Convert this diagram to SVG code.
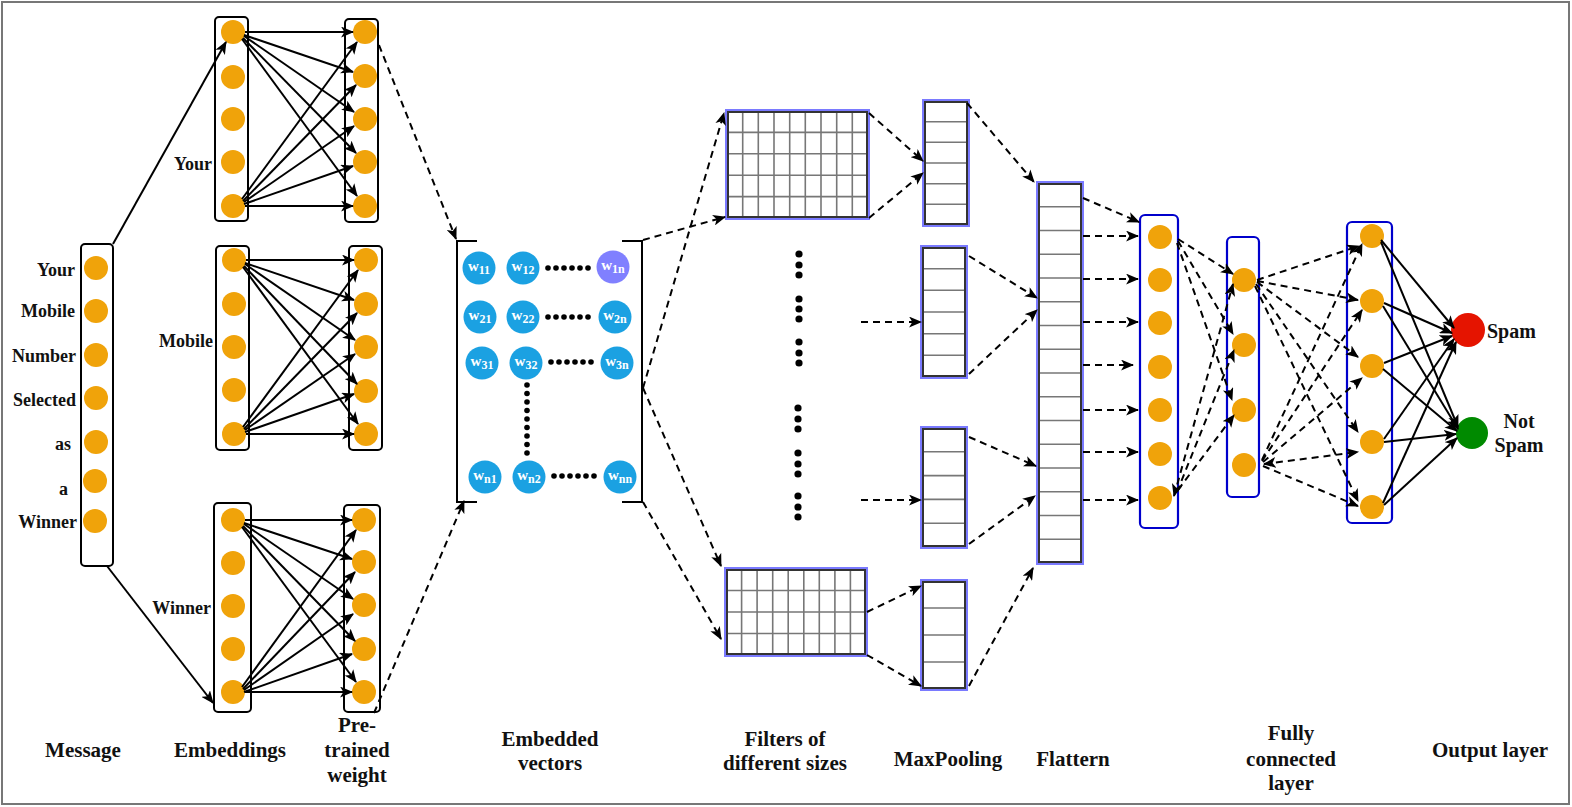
<svg xmlns="http://www.w3.org/2000/svg" width="1572" height="807" viewBox="0 0 1572 807">
<style>
.lbl{font-family:"Liberation Serif","Times New Roman",serif;font-weight:bold;fill:#111;}
.l18{font-size:18px;}
.l21{font-size:21px;}
.col{fill:#fff;stroke:#000;stroke-width:2;}
.fc{fill:#fff;stroke:#0000cc;stroke-width:2.2;}
.or{fill:#f0a30a;}
.bl{fill:#1ba1e2;}
.wt{font-family:"Liberation Serif","Times New Roman",serif;font-weight:bold;fill:#fff;font-size:15px;}
.halo{fill:#fff;stroke:#7a7aff;stroke-width:4;}
.box{fill:none;stroke:#333;stroke-width:2;}
.grid{fill:none;stroke:#777;stroke-width:1.6;}
.s{fill:none;stroke:#000;stroke-width:2;marker-end:url(#a);}
.d{fill:none;stroke:#000;stroke-width:2;stroke-dasharray:7,5;marker-end:url(#a);}
.dot{fill:#000;}
</style>
<defs>
<marker id="a" viewBox="0 0 12 10" refX="11" refY="5" markerWidth="13" markerHeight="11" markerUnits="userSpaceOnUse" orient="auto"><path d="M0,0 L12,5 L0,10 L3,5 z" fill="#000"/></marker>
<marker id="r" viewBox="0 0 12 10" refX="11" refY="5" markerWidth="13" markerHeight="11" markerUnits="userSpaceOnUse" orient="auto-start-reverse"><path d="M0,0 L12,5 L0,10 L3,5 z" fill="#000"/></marker>
</defs>
<rect x="2" y="2" width="1567" height="802" fill="#fff" stroke="#777" stroke-width="2"/>

<!-- Message -->
<g id="message">
<rect class="col" x="81" y="244" width="32" height="322" rx="4"/>
<circle class="or" cx="96" cy="268" r="12"/>
<circle class="or" cx="96" cy="311" r="12"/>
<circle class="or" cx="96" cy="355" r="12"/>
<circle class="or" cx="96" cy="398" r="12"/>
<circle class="or" cx="96" cy="442" r="12"/>
<circle class="or" cx="95" cy="481" r="12"/>
<circle class="or" cx="95" cy="521" r="12"/>
<text class="lbl l18" text-anchor="end" x="75" y="276">Your</text>
<text class="lbl l18" text-anchor="end" x="75" y="317">Mobile</text>
<text class="lbl l18" text-anchor="end" x="76" y="362">Number</text>
<text class="lbl l18" text-anchor="end" x="76" y="406">Selected</text>
<text class="lbl l18" text-anchor="end" x="71" y="450">as</text>
<text class="lbl l18" text-anchor="end" x="68" y="495">a</text>
<text class="lbl l18" text-anchor="end" x="77" y="528">Winner</text>
</g>

<!-- Embeddings -->
<g id="emb-your">
<rect class="col" x="215" y="17" width="33" height="204" rx="4"/>
<circle class="or" cx="233" cy="32" r="12"/>
<circle class="or" cx="233" cy="77" r="12"/>
<circle class="or" cx="233" cy="119" r="12"/>
<circle class="or" cx="233" cy="162" r="12"/>
<circle class="or" cx="233" cy="206" r="12"/>
<text class="lbl l18" text-anchor="end" x="212" y="170">Your</text>
</g>
<g id="pre-your">
<rect class="col" x="345" y="19" width="33" height="203" rx="4"/>
<circle class="or" cx="365" cy="32" r="12"/>
<circle class="or" cx="365" cy="76" r="12"/>
<circle class="or" cx="365" cy="119" r="12"/>
<circle class="or" cx="365" cy="162" r="12"/>
<circle class="or" cx="365" cy="206" r="12"/>
</g>
<g id="emb-mobile">
<rect class="col" x="216" y="246" width="33" height="204" rx="4"/>
<circle class="or" cx="234" cy="260" r="12"/>
<circle class="or" cx="234" cy="304" r="12"/>
<circle class="or" cx="234" cy="347" r="12"/>
<circle class="or" cx="234" cy="390" r="12"/>
<circle class="or" cx="234" cy="434" r="12"/>
<text class="lbl l18" text-anchor="end" x="213" y="347">Mobile</text>
</g>
<g id="pre-mobile">
<rect class="col" x="349" y="246" width="33" height="204" rx="4"/>
<circle class="or" cx="366" cy="260" r="12"/>
<circle class="or" cx="366" cy="304" r="12"/>
<circle class="or" cx="366" cy="347" r="12"/>
<circle class="or" cx="366" cy="391" r="12"/>
<circle class="or" cx="366" cy="434" r="12"/>
</g>
<g id="emb-winner">
<rect class="col" x="214" y="503" width="37" height="209" rx="4"/>
<circle class="or" cx="233" cy="520" r="12"/>
<circle class="or" cx="233" cy="563" r="12"/>
<circle class="or" cx="233" cy="606" r="12"/>
<circle class="or" cx="233" cy="649" r="12"/>
<circle class="or" cx="233" cy="692" r="12"/>
<text class="lbl l18" text-anchor="end" x="211" y="614">Winner</text>
</g>
<g id="pre-winner">
<rect class="col" x="344" y="505" width="36" height="207" rx="4"/>
<circle class="or" cx="364" cy="520" r="12"/>
<circle class="or" cx="364" cy="562" r="12"/>
<circle class="or" cx="364" cy="605" r="12"/>
<circle class="or" cx="364" cy="649" r="12"/>
<circle class="or" cx="364" cy="692" r="12"/>
</g>

<!-- Embedded vectors -->
<g id="vectors">
<path d="M477,241 H457 V502 H477 M622,241 H642 V502 H622" fill="none" stroke="#000" stroke-width="2"/>
<circle class="bl" cx="479" cy="268" r="16.5"/>
<circle class="bl" cx="523" cy="268" r="16.5"/>
<circle cx="613" cy="267" r="16.5" fill="#8080ff"/>
<circle class="bl" cx="480" cy="317" r="16.5"/>
<circle class="bl" cx="523" cy="317" r="16.5"/>
<circle class="bl" cx="615" cy="317" r="16.5"/>
<circle class="bl" cx="482" cy="363" r="16.5"/>
<circle class="bl" cx="526" cy="363" r="16.5"/>
<circle class="bl" cx="617" cy="363" r="16.5"/>
<circle class="bl" cx="485" cy="477" r="16.5"/>
<circle class="bl" cx="529" cy="477" r="16.5"/>
<circle class="bl" cx="620" cy="477" r="16.5"/>
<text class="wt" text-anchor="middle" x="479" y="271">w<tspan font-size="12" dy="3">11</tspan></text>
<text class="wt" text-anchor="middle" x="523" y="271">w<tspan font-size="12" dy="3">12</tspan></text>
<text class="wt" text-anchor="middle" x="613" y="270">w<tspan font-size="12" dy="3">1n</tspan></text>
<text class="wt" text-anchor="middle" x="480" y="320">w<tspan font-size="12" dy="3">21</tspan></text>
<text class="wt" text-anchor="middle" x="523" y="320">w<tspan font-size="12" dy="3">22</tspan></text>
<text class="wt" text-anchor="middle" x="615" y="320">w<tspan font-size="12" dy="3">2n</tspan></text>
<text class="wt" text-anchor="middle" x="482" y="366">w<tspan font-size="12" dy="3">31</tspan></text>
<text class="wt" text-anchor="middle" x="526" y="366">w<tspan font-size="12" dy="3">32</tspan></text>
<text class="wt" text-anchor="middle" x="617" y="366">w<tspan font-size="12" dy="3">3n</tspan></text>
<text class="wt" text-anchor="middle" x="485" y="480">w<tspan font-size="12" dy="3">n1</tspan></text>
<text class="wt" text-anchor="middle" x="529" y="480">w<tspan font-size="12" dy="3">n2</tspan></text>
<text class="wt" text-anchor="middle" x="620" y="480">w<tspan font-size="12" dy="3">nn</tspan></text>
<g class="dot">
<circle cx="548" cy="268" r="2.8"/><circle cx="556" cy="268" r="2.8"/><circle cx="564" cy="268" r="2.8"/><circle cx="572" cy="268" r="2.8"/><circle cx="580" cy="268" r="2.8"/><circle cx="588" cy="268" r="2.8"/>
<circle cx="548" cy="317" r="2.8"/><circle cx="556" cy="317" r="2.8"/><circle cx="564" cy="317" r="2.8"/><circle cx="572" cy="317" r="2.8"/><circle cx="580" cy="317" r="2.8"/><circle cx="588" cy="317" r="2.8"/>
<circle cx="551" cy="362" r="2.8"/><circle cx="559" cy="362" r="2.8"/><circle cx="567" cy="362" r="2.8"/><circle cx="575" cy="362" r="2.8"/><circle cx="583" cy="362" r="2.8"/><circle cx="591" cy="362" r="2.8"/>
<circle cx="554" cy="476" r="2.8"/><circle cx="562" cy="476" r="2.8"/><circle cx="570" cy="476" r="2.8"/><circle cx="578" cy="476" r="2.8"/><circle cx="586" cy="476" r="2.8"/><circle cx="594" cy="476" r="2.8"/>
<circle cx="527" cy="385" r="2.8"/><circle cx="527" cy="393.5" r="2.8"/><circle cx="527" cy="402" r="2.8"/><circle cx="527" cy="410.5" r="2.8"/><circle cx="527" cy="419" r="2.8"/><circle cx="527" cy="427.5" r="2.8"/><circle cx="527" cy="436" r="2.8"/><circle cx="527" cy="444.5" r="2.8"/><circle cx="527" cy="453" r="2.8"/>
</g>
</g>

<!-- Filters -->
<g id="filter1">
<rect class="halo" x="727" y="111" width="141" height="107"/>
<path class="grid" d="M742.7,111V218M758.3,111V218M774,111V218M789.7,111V218M805.3,111V218M821,111V218M836.7,111V218M852.3,111V218M727,132.4H868M727,153.8H868M727,175.2H868M727,196.6H868"/>
<rect class="box" x="728" y="112" width="139" height="105"/>
</g>
<g id="filter2">
<rect class="halo" x="726" y="569" width="140" height="86"/>
<path class="grid" d="M741.6,569V655M757.1,569V655M772.7,569V655M788.2,569V655M803.8,569V655M819.3,569V655M834.9,569V655M850.4,569V655M726,590.5H866M726,612H866M726,633.5H866"/>
<rect class="box" x="727" y="570" width="138" height="84"/>
</g>
<g id="filter-dots" class="dot">
<circle cx="799" cy="254" r="3.6"/><circle cx="799" cy="265" r="3.6"/><circle cx="799" cy="275" r="3.6"/>
<circle cx="799" cy="299" r="3.6"/><circle cx="799" cy="309" r="3.6"/><circle cx="799" cy="319" r="3.6"/>
<circle cx="799" cy="342" r="3.6"/><circle cx="799" cy="353" r="3.6"/><circle cx="799" cy="363" r="3.6"/>
<circle cx="798" cy="408" r="3.6"/><circle cx="798" cy="419" r="3.6"/><circle cx="798" cy="429" r="3.6"/>
<circle cx="798" cy="453" r="3.6"/><circle cx="798" cy="464" r="3.6"/><circle cx="798" cy="474" r="3.6"/>
<circle cx="798" cy="496" r="3.6"/><circle cx="798" cy="507" r="3.6"/><circle cx="798" cy="517" r="3.6"/>
</g>

<!-- MaxPooling -->
<g id="mp1">
<rect class="halo" x="924" y="101" width="44" height="124"/>
<path class="grid" d="M924,121.7H968M924,142.3H968M924,163H968M924,183.7H968M924,204.3H968"/>
<rect class="box" x="925" y="102" width="42" height="122"/>
</g>
<g id="mp2">
<rect class="halo" x="922" y="247" width="44" height="130"/>
<path class="grid" d="M922,268.7H966M922,290.3H966M922,312H966M922,333.7H966M922,355.3H966"/>
<rect class="box" x="923" y="248" width="42" height="128"/>
</g>
<g id="mp3">
<rect class="halo" x="922" y="428" width="44" height="119"/>
<path class="grid" d="M922,451.8H966M922,475.6H966M922,499.4H966M922,523.2H966"/>
<rect class="box" x="923" y="429" width="42" height="117"/>
</g>
<g id="mp4">
<rect class="halo" x="922" y="581" width="44" height="108"/>
<path class="grid" d="M922,608H966M922,635H966M922,662H966"/>
<rect class="box" x="923" y="582" width="42" height="106"/>
</g>

<!-- Flatten -->
<g id="flatten">
<rect class="halo" x="1038" y="183" width="44" height="380"/>
<path class="grid" d="M1038,206.75H1082M1038,230.5H1082M1038,254.25H1082M1038,278H1082M1038,301.75H1082M1038,325.5H1082M1038,349.25H1082M1038,373H1082M1038,396.75H1082M1038,420.5H1082M1038,444.25H1082M1038,468H1082M1038,491.75H1082M1038,515.5H1082M1038,539.25H1082"/>
<rect class="box" x="1039" y="184" width="42" height="378"/>
</g>

<!-- Fully connected -->
<g id="fc1">
<rect class="fc" x="1140" y="215" width="38" height="313" rx="5"/>
<circle class="or" cx="1160" cy="237" r="12"/>
<circle class="or" cx="1160" cy="280" r="12"/>
<circle class="or" cx="1160" cy="323" r="12"/>
<circle class="or" cx="1160" cy="367" r="12"/>
<circle class="or" cx="1160" cy="410" r="12"/>
<circle class="or" cx="1160" cy="454" r="12"/>
<circle class="or" cx="1160" cy="498" r="12"/>
</g>
<g id="fc2">
<rect class="fc" x="1227" y="237" width="32" height="260" rx="5"/>
<circle class="or" cx="1244" cy="280" r="12"/>
<circle class="or" cx="1244" cy="345" r="12"/>
<circle class="or" cx="1244" cy="410" r="12"/>
<circle class="or" cx="1244" cy="465" r="12"/>
</g>
<g id="fc3">
<rect class="fc" x="1347" y="222" width="45" height="301" rx="5"/>
<circle class="or" cx="1372" cy="236" r="12"/>
<circle class="or" cx="1372" cy="301" r="12"/>
<circle class="or" cx="1372" cy="366" r="12"/>
<circle class="or" cx="1372" cy="442" r="12"/>
<circle class="or" cx="1372" cy="507" r="12"/>
</g>

<!-- Output -->
<g id="out-spam">
<circle cx="1468" cy="330" r="17" fill="#e51400"/>
<text class="lbl" font-size="20" x="1487" y="338">Spam</text>
</g>
<g id="out-notspam">
<circle cx="1472" cy="433" r="16" fill="#008a00"/>
<text class="lbl" font-size="20" text-anchor="middle" x="1519" y="428">Not</text>
<text class="lbl" font-size="20" text-anchor="middle" x="1519" y="452">Spam</text>
</g>

<!-- Bottom labels -->
<g id="labels" class="lbl l21" text-anchor="middle">
<text x="83" y="757">Message</text>
<text x="230" y="757">Embeddings</text>
<text x="357" y="732">Pre-</text>
<text x="357" y="757">trained</text>
<text x="357" y="782">weight</text>
<text x="550" y="746">Embedded</text>
<text x="550" y="770">vectors</text>
<text x="785" y="746">Filters of</text>
<text x="785" y="770">different sizes</text>
<text x="948" y="766">MaxPooling</text>
<text x="1073" y="766">Flattern</text>
<text x="1291" y="740">Fully</text>
<text x="1291" y="766">connected</text>
<text x="1291" y="790">layer</text>
<text x="1490" y="757">Output layer</text>
</g>

<!-- Connectors -->
<g id="connectors">
<line class="s" x1="113" y1="244" x2="226" y2="42"/>
<line class="s" x1="107" y1="566" x2="213" y2="703"/>

<g id="fan-top">
<line class="s" x1="245" y1="32" x2="353" y2="32"/>
<line class="s" x1="244" y1="35" x2="353" y2="72"/>
<line class="s" x1="244" y1="36" x2="354" y2="112"/>
<line class="s" x1="243" y1="38" x2="356" y2="153"/>
<line class="s" x1="242" y1="39" x2="357" y2="196"/>
<line class="s" x1="242" y1="199" x2="357" y2="42"/>
<line class="s" x1="243" y1="201" x2="356" y2="85"/>
<line class="s" x1="244" y1="202" x2="354" y2="126"/>
<line class="s" x1="244" y1="204" x2="353" y2="166"/>
<line class="s" x1="245" y1="206" x2="353" y2="206"/>
</g>
<g transform="translate(1,228)">
<line class="s" x1="245" y1="32" x2="353" y2="32"/>
<line class="s" x1="244" y1="35" x2="353" y2="72"/>
<line class="s" x1="244" y1="36" x2="354" y2="112"/>
<line class="s" x1="243" y1="38" x2="356" y2="156"/>
<line class="s" x1="242" y1="39" x2="357" y2="196"/>
<line class="s" x1="242" y1="199" x2="357" y2="42"/>
<line class="s" x1="243" y1="201" x2="356" y2="85"/>
<line class="s" x1="244" y1="202" x2="354" y2="126"/>
<line class="s" x1="244" y1="204" x2="353" y2="166"/>
<line class="s" x1="245" y1="206" x2="353" y2="206"/>
</g>
<g transform="translate(0,488)">
<line class="s" x1="245" y1="32" x2="352" y2="32"/>
<line class="s" x1="244" y1="35" x2="352" y2="71"/>
<line class="s" x1="244" y1="36" x2="353" y2="111"/>
<line class="s" x1="243" y1="38" x2="355" y2="153"/>
<line class="s" x1="242" y1="39" x2="356" y2="194"/>
<line class="s" x1="242" y1="199" x2="356" y2="42"/>
<line class="s" x1="243" y1="201" x2="355" y2="84"/>
<line class="s" x1="244" y1="202" x2="353" y2="126"/>
<line class="s" x1="244" y1="204" x2="352" y2="166"/>
<line class="s" x1="245" y1="204" x2="352" y2="204"/>
</g>

<line class="d" x1="379" y1="45" x2="456" y2="239"/>
<line class="d" x1="374" y1="713" x2="464" y2="501"/>

<line class="d" x1="643" y1="240" x2="725" y2="217"/>
<line class="d" x1="643" y1="388" x2="724" y2="113"/>
<line class="d" x1="643" y1="388" x2="721" y2="566"/>
<line class="d" x1="643" y1="502" x2="721" y2="639"/>

<line class="d" x1="869" y1="113" x2="923" y2="161"/>
<line class="d" x1="869" y1="218" x2="923" y2="173"/>
<line class="d" x1="861" y1="322" x2="921" y2="322"/>
<line class="d" x1="861" y1="500" x2="921" y2="500"/>
<line class="d" x1="867" y1="612" x2="921" y2="586"/>
<line class="d" x1="867" y1="655" x2="921" y2="686"/>

<line class="d" x1="967" y1="103" x2="1034" y2="182"/>
<line class="d" x1="969" y1="256" x2="1037" y2="298"/>
<line class="d" x1="969" y1="374" x2="1037" y2="310"/>
<line class="d" x1="969" y1="437" x2="1036" y2="466"/>
<line class="d" x1="969" y1="544" x2="1035" y2="496"/>
<line class="d" x1="969" y1="686" x2="1033" y2="568"/>

<line class="d" x1="1083" y1="198" x2="1139" y2="222"/>
<line class="d" x1="1083" y1="236" x2="1138" y2="236"/>
<line class="d" x1="1083" y1="279" x2="1138" y2="279"/>
<line class="d" x1="1083" y1="322" x2="1138" y2="322"/>
<line class="d" x1="1083" y1="365" x2="1133" y2="365"/>
<line class="d" x1="1083" y1="410" x2="1138" y2="410"/>
<line class="d" x1="1083" y1="452" x2="1138" y2="452"/>
<line class="d" x1="1083" y1="500" x2="1138" y2="500"/>

<line class="d" x1="1178" y1="239" x2="1233" y2="274"/>
<line class="d" x1="1178" y1="241" x2="1233" y2="334"/>
<line class="d" x1="1177" y1="243" x2="1232" y2="400"/>
<line class="d" x1="1174" y1="496" x2="1233" y2="284" style="marker-start:url(#r)"/>
<line class="d" x1="1177" y1="492" x2="1234" y2="350"/>
<line class="d" x1="1178" y1="490" x2="1234" y2="415"/>

<line class="d" x1="1257" y1="280" x2="1359" y2="246"/>
<line class="d" x1="1257" y1="281" x2="1358" y2="300"/>
<line class="d" x1="1257" y1="282" x2="1358" y2="357"/>
<line class="d" x1="1256" y1="284" x2="1358" y2="432"/>
<line class="d" x1="1255" y1="286" x2="1358" y2="501"/>
<line class="d" x1="1262" y1="460" x2="1362" y2="244"/>
<line class="d" x1="1262" y1="461" x2="1362" y2="310"/>
<line class="d" x1="1263" y1="462" x2="1362" y2="378"/>
<line class="d" x1="1264" y1="464" x2="1358" y2="452" style="marker-start:url(#r)"/>
<line class="d" x1="1263" y1="466" x2="1358" y2="506"/>

<line class="s" x1="1381" y1="240" x2="1454" y2="328"/>
<line class="s" x1="1381" y1="242" x2="1458" y2="427"/>
<line class="s" x1="1384" y1="303" x2="1452" y2="333"/>
<line class="s" x1="1383" y1="306" x2="1458" y2="429"/>
<line class="s" x1="1384" y1="363" x2="1452" y2="336"/>
<line class="s" x1="1383" y1="369" x2="1457" y2="431"/>
<line class="s" x1="1384" y1="439" x2="1454" y2="339"/>
<line class="s" x1="1384" y1="442" x2="1456" y2="434"/>
<line class="s" x1="1383" y1="503" x2="1456" y2="342"/>
<line class="s" x1="1384" y1="505" x2="1457" y2="438"/>
</g>
</svg>
